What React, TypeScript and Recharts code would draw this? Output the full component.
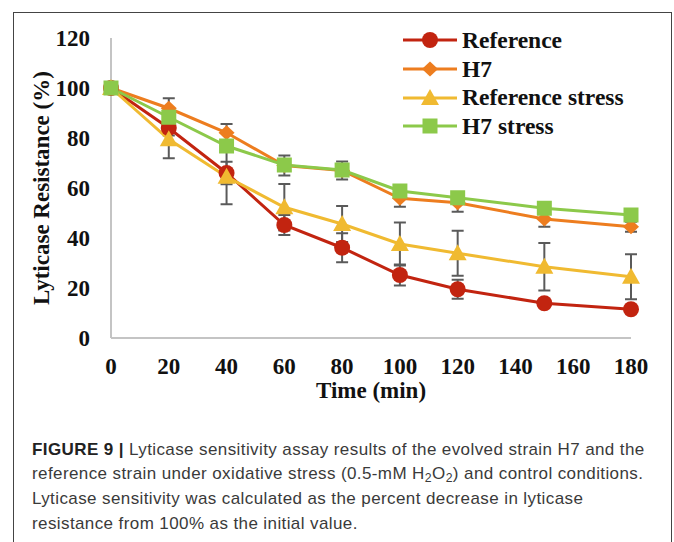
import React from 'react';
import { LineChart, Line, XAxis, YAxis, ErrorBar } from 'recharts';

const times = [0, 20, 40, 60, 80, 100, 120, 150, 180];
const referenceValues = [100, 84, 66, 45.2, 36.1, 25.2, 19.5, 13.9, 11.5];
const referenceErrors = [0, 3, 4.5, 4, 5.8, 4.2, 3.8, 1.5, 1.5];
const h7Values = [100, 91.9, 82.1, 69, 67, 55.9, 54.1, 47.6, 44.5];
const h7Errors = [0, 4, 3.5, 4, 3.6, 3.4, 3.6, 3.1, 2];
const refStressValues = [100, 79.5, 64.5, 52.3, 45.6, 37.6, 33.9, 28.5, 24.5];
const refStressErrors = [0, 7.6, 11, 9.3, 7.2, 8.6, 9, 9.5, 9];
const h7StressValues = [100, 88.3, 76.8, 69.2, 67.2, 58.8, 56.1, 51.9, 49.2];
const h7StressErrors = [0, 2, 2, 2, 2, 2, 2, 2, 2];
const yTicks = [0, 20, 40, 60, 80, 100, 120];
const xTicks = [0, 20, 40, 60, 80, 100, 120, 140, 160, 180];

const series = [
  { key: 'ref', name: 'Reference', color: '#C22410', shape: 'circle' },
  { key: 'h7', name: 'H7', color: '#ED7D1F', shape: 'diamond' },
  { key: 'refStress', name: 'Reference stress', color: '#F0BA31', shape: 'triangle' },
  { key: 'h7Stress', name: 'H7 stress', color: '#8CC94A', shape: 'square' },
];

const data = times.map((t, i) => ({
  t,
  ref: referenceValues[i],
  refErr: referenceErrors[i],
  h7: h7Values[i],
  h7Err: h7Errors[i],
  refStress: refStressValues[i],
  refStressErr: refStressErrors[i],
  h7Stress: h7StressValues[i],
  h7StressErr: h7StressErrors[i],
}));

const serif = '"Liberation Serif", "Times New Roman", serif';
const errColor = '#5A5A5A';
const labelFont = { fill: '#111', fontFamily: serif, fontWeight: 700, fontSize: 23 };

function Marker({ cx, cy, shape, color }: any) {
  if (cx == null || cy == null) return null;
  switch (shape) {
    case 'circle':
      return <circle cx={cx} cy={cy} r={8} fill={color} />;
    case 'diamond':
      return <path d={`M${cx},${cy - 7.5} L${cx + 8},${cy} L${cx},${cy + 7.5} L${cx - 8},${cy} Z`} fill={color} />;
    case 'triangle':
      return <path d={`M${cx},${cy - 9} L${cx + 9},${cy + 7} L${cx - 9},${cy + 7} Z`} fill={color} />;
    default:
      return <rect x={cx - 7.5} y={cy - 7.5} width={15} height={15} fill={color} />;
  }
}

function LegendBox() {
  return (
    <div style={{ position: 'absolute', left: 402, top: 26 }}>
      {series.map((s) => (
        <div key={s.key} style={{ display: 'flex', alignItems: 'center', height: 28.7 }}>
          <svg width={56} height={24}>
            <line x1={1} y1={12} x2={55} y2={12} stroke={s.color} strokeWidth={3} />
            <Marker cx={28} cy={12} shape={s.shape} color={s.color} />
          </svg>
          <span style={{ fontFamily: serif, fontWeight: 700, fontSize: 23.5, marginLeft: 4, color: '#111' }}>
            {s.name}
          </span>
        </div>
      ))}
    </div>
  );
}

const subStyle: React.CSSProperties = { fontSize: '0.72em', lineHeight: 0, verticalAlign: '-0.25em' };

const captionLines = [
  <><b style={{ fontWeight: 700, color: '#222' }}>FIGURE 9 |</b> Lyticase sensitivity assay results of the evolved strain H7 and the</>,
  <>reference strain under oxidative stress (0.5-mM H<span style={subStyle}>2</span>O<span style={subStyle}>2</span>) and control conditions.</>,
  <>Lyticase sensitivity was calculated as the percent decrease in lyticase</>,
  <>resistance from 100% as the initial value.</>,
];

export default function App() {
  return (
    <div style={{ position: 'absolute', left: 0, top: 0, width: 674, height: 542, overflow: 'hidden', background: '#fff' }}>
      <div style={{ position: 'absolute', left: 13, top: 12, width: 657, height: 560, border: '1px solid #444' }} />
      <div style={{ position: 'absolute', left: 0, top: 0 }}>
        <LineChart width={674} height={410} data={data} margin={{ top: 38, right: 43, left: 51, bottom: 12 }}>
          <XAxis
            dataKey="t"
            type="number"
            domain={[0, 180]}
            ticks={xTicks}
            tickLine={false}
            tickSize={0}
            tickMargin={20}
            height={60}
            stroke="#C4C4C4"
            strokeWidth={2}
            tick={labelFont}
            label={{ value: 'Time (min)', position: 'insideBottom', offset: 0, ...labelFont }}
          />
          <YAxis
            type="number"
            domain={[0, 120]}
            ticks={yTicks}
            tickLine={false}
            tickSize={0}
            tickMargin={21}
            width={60}
            stroke="#C4C4C4"
            strokeWidth={2}
            tick={labelFont}
            label={{
              content: ({ viewBox }: any) => (
                <text
                  transform={`translate(${viewBox.x - 10},${viewBox.y + viewBox.height / 2}) rotate(-90)`}
                  textAnchor="middle"
                  dominantBaseline="central"
                  {...labelFont}
                >
                  Lyticase Resistance (%)
                </text>
              ),
            }}
          />
          {series.map((s) => (
            <Line
              key={s.key}
              dataKey={s.key}
              name={s.name}
              stroke={s.color}
              strokeWidth={3}
              isAnimationActive={false}
              dot={(p: any) => <Marker key={`${s.key}-${p.index}`} cx={p.cx} cy={p.cy} shape={s.shape} color={s.color} />}
              activeDot={false}
            >
              <ErrorBar dataKey={`${s.key}Err`} direction="y" width={6} strokeWidth={2} stroke={errColor} isAnimationActive={false} />
            </Line>
          ))}
        </LineChart>
      </div>
      <LegendBox />
      <div
        style={{
          position: 'absolute',
          left: 32,
          top: 437.5,
          fontFamily: '"Liberation Sans", Arial, sans-serif',
          fontSize: 17,
          letterSpacing: 0.4,
          lineHeight: '24.8px',
          color: '#3a3a3a',
          whiteSpace: 'nowrap',
        }}
      >
        {captionLines.map((l, i) => (
          <div key={i}>{l}</div>
        ))}
      </div>
    </div>
  );
}
